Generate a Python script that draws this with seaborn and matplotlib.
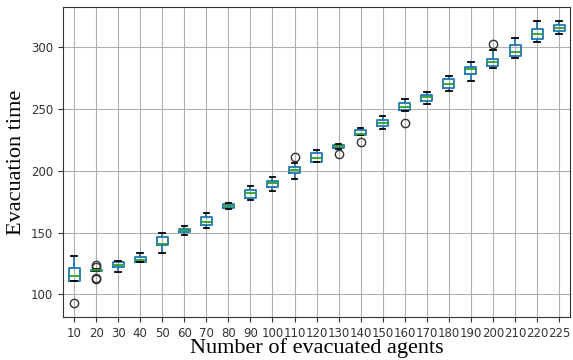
import numpy as np
import pandas as pd
import matplotlib
matplotlib.use("Agg")
import matplotlib.pyplot as plt
import seaborn as sns

agents = [10, 20, 30, 40, 50, 60, 70, 80, 90, 100, 110, 120, 130, 140, 150,
          160, 170, 180, 190, 200, 210, 220, 225]
whislo = [110.6, 118.8, 117.9, 126.3, 133.6, 148.2, 153.6, 169.4, 176.4, 183.5, 193.7, 207.3,
          217.9, 228.7, 234.1, 248.5, 253.8, 264.8, 272.4, 283.2, 291.6, 304.6, 311.1]
q1 = [110.6, 119.0, 122.2, 126.3, 139.8, 150.6, 156.1, 170.2, 177.8, 186.7, 198.1, 207.3,
      218.5, 229.3, 236.0, 249.3, 256.9, 267.2, 278.3, 285.1, 293.1, 307.0, 313.0]
median = [115.2, 119.5, 124.1, 128.0, 140.9, 151.9, 158.4, 171.5, 181.9, 190.2, 200.6, 210.3,
          219.8, 230.1, 239.0, 252.0, 259.4, 270.5, 282.1, 287.8, 296.6, 310.8, 315.7]
q3 = [121.4, 120.0, 126.3, 130.6, 146.3, 152.9, 162.6, 172.9, 184.3, 191.9, 202.7, 214.6,
      220.9, 232.8, 240.9, 255.2, 261.6, 274.2, 284.3, 290.5, 302.2, 314.6, 318.5]
whishi = [130.9, 120.2, 126.8, 133.6, 149.8, 155.5, 165.8, 174.2, 187.4, 194.6, 206.5, 216.8,
          221.7, 234.4, 244.2, 258.0, 263.9, 276.7, 287.8, 297.8, 307.6, 321.1, 321.4]
outliers = [[92.9], [123.5, 122.2, 113.4, 112.0], [], [], [], [], [], [], [], [], [211.4], [],
            [213.4], [223.4], [], [239.0], [], [], [], [303.0], [], [], []]

# expand the read-off box statistics into samples that reproduce them
weights = [1, 20, 20, 20, 1]
rows = []
for a, lo, a1, m, a3, hi, outs in zip(agents, whislo, q1, median, q3, whishi, outliers):
    for v, w in zip([lo, a1, m, a3, hi], weights):
        rows += [(str(a), v)] * w
    rows += [(str(a), v) for v in outs]
df = pd.DataFrame(rows, columns=["agents", "time"])
order = [str(a) for a in agents]

fig = plt.figure(figsize=(5.73, 3.6), dpi=100)
ax = fig.add_axes([0.110, 0.119, 0.885, 0.862])

blue = "#1f77b4"
sns.boxplot(data=df, x="agents", y="time", order=order, ax=ax,
            fill=False, color=blue, width=0.5, linewidth=1.3,
            boxprops={"color": blue},
            whiskerprops={"color": blue},
            capprops={"color": "black"},
            medianprops={"color": "#2ca02c"},
            flierprops={"marker": "o", "markerfacecolor": "none",
                        "markeredgecolor": "#333333", "markersize": 6})

ax.grid(True, color="#b0b0b0", linewidth=0.8)
ax.set_axisbelow(True)
ax.set_yticks([100, 150, 200, 250, 300])
ax.tick_params(labelsize=8.5, colors="#333333")
for s in ax.spines.values():
    s.set_color("#333333")
ax.set_xlabel("Number of evacuated agents", fontsize=16,
              family=["Liberation Serif", "DejaVu Serif"], labelpad=-1)
ax.set_ylabel("Evacuation time", fontsize=16,
              family=["Liberation Serif", "DejaVu Serif"], labelpad=4)

fig.savefig("out.png", dpi=100)
